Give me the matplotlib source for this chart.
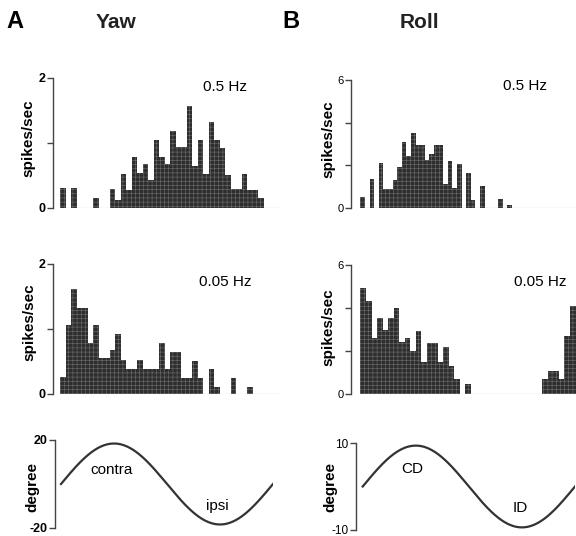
import numpy as np
import matplotlib
matplotlib.use("Agg")
import matplotlib.pyplot as plt

plt.rcParams['font.family'] = ['Liberation Sans', 'DejaVu Sans']
plt.rcParams['hatch.linewidth'] = 0.4

# firing rate histograms (spikes/sec), one cycle of stimulus
yaw_05 = [0.31, 0, 0.31, 0, 0, 0, 0.15, 0, 0, 0.29, 0.13, 0.53, 0.28, 0.78, 0.54, 0.67,
          0.43, 1.05, 0.79, 0.67, 1.19, 0.94, 0.94, 1.57, 0.64, 1.05, 0.53, 1.32, 1.05,
          0.92, 0.51, 0.29, 0.29, 0.53, 0.28, 0.28, 0.15, 0, 0, 0]
yaw_005 = [0.26, 1.06, 1.61, 1.33, 1.33, 0.79, 1.06, 0.55, 0.55, 0.67, 0.93, 0.53, 0.39,
           0.39, 0.53, 0.38, 0.38, 0.38, 0.78, 0.38, 0.65, 0.65, 0.25, 0.25, 0.51, 0.25,
           0, 0.38, 0.11, 0, 0, 0.25, 0, 0, 0.11, 0, 0, 0, 0, 0]
roll_05 = [0.53, 0, 1.34, 0, 2.12, 0.89, 0.89, 1.31, 1.93, 3.1, 2.43, 3.52, 2.94, 2.94,
           2.24, 2.55, 2.94, 2.94, 1.12, 2.21, 0.92, 2.06, 0, 1.64, 0.36, 0, 1.04, 0, 0,
           0, 0.44, 0, 0.12] + [0] * 15
roll_005 = [4.95, 4.33, 2.62, 3.52, 2.98, 3.52, 4.02, 2.40, 2.59, 2.02, 2.93, 1.50, 2.39,
            2.36, 1.47, 2.20, 1.30, 0.70, 0, 0.45] + [0] * 13 + \
           [0.68, 1.09, 1.09, 0.68, 2.70, 4.09, 4.1]

# stimulus position amplitude (degree)
yaw_amp = 18.4
roll_amp = 9.4

W, H = 576, 536
fig = plt.figure(figsize=(W / 100, H / 100), dpi=100, facecolor='w')

def px_axes(left, top, right, bottom):
    return fig.add_axes([left / W, 1 - bottom / H, (right - left) / W, (bottom - top) / H])

def ftext(x, y, s, **kw):
    fig.text(x / W, 1 - y / H, s, **kw)

def style(ax, ticks, labels, tsize, tweight):
    for s in ['top', 'right', 'bottom']:
        ax.spines[s].set_visible(False)
    ax.spines['left'].set_color('#444444')
    ax.spines['left'].set_linewidth(1.0)
    ax.set_xticks([])
    ax.set_yticks(ticks)
    ax.set_yticklabels(labels, fontsize=tsize, fontweight=tweight)
    ax.tick_params(axis='y', length=4.5, width=1.0, color='#444444', pad=1)
    ax.patch.set_alpha(0)

def hist(ax, vals, ymax, xlo, labels, tsize, tweight):
    n = len(vals)
    w = 360.0 / n
    centers = (np.arange(n) + 0.5) * w
    ax.bar(centers, vals, width=w, color='#2e2e2e', edgecolor='#6e6e6e',
           hatch='++++', linewidth=0)
    ax.hlines(0, 0, 360, color='#888888', linewidth=0.8)
    ax.set_xlim(xlo, 360)
    ax.set_ylim(0, ymax)
    style(ax, np.linspace(0, ymax, len(labels)), labels, tsize, tweight)

def sine(ax, amp, ymax, xlo, labels, tsize, tweight):
    phase = np.linspace(0, 360, 361)
    ax.plot(phase, amp * np.sin(np.radians(phase)), color='#333333', linewidth=1.6)
    ax.set_xlim(xlo, 360)
    ax.set_ylim(-ymax, ymax)
    style(ax, [-ymax, ymax], labels, tsize, tweight)

# column A: yaw
ax1 = px_axes(53, 78, 280, 208)
hist(ax1, yaw_05, 2, -11.5, ['0', '', '2'], 9, 'bold')
ax2 = px_axes(53, 264, 280, 394)
hist(ax2, yaw_005, 2, -11.5, ['0', '', '2'], 9, 'bold')
ax3 = px_axes(55, 440, 273, 528)
sine(ax3, yaw_amp, 20, -10.2, ['-20', '20'], 9, 'bold')

# column B: roll
ax4 = px_axes(351, 80, 581, 208)
hist(ax4, roll_05, 6, -15.5, ['0', '', '', '6'], 8, 'normal')
ax5 = px_axes(351, 265, 581, 394)
hist(ax5, roll_005, 6, -15.5, ['0', '', '', '6'], 8, 'normal')
ax6 = px_axes(356, 443, 575, 530)
sine(ax6, roll_amp, 10, -11.4, ['-10', '10'], 8.5, 'normal')

# axis titles placed where the reference has them
lab = dict(fontsize=11, fontweight='bold', rotation=90, ha='center', va='center')
ftext(28, 138, 'spikes/sec', **lab)
ftext(29, 322, 'spikes/sec', **lab)
ftext(32, 487, 'degree', **lab)
ftext(328, 139, 'spikes/sec', **lab)
ftext(328, 327, 'spikes/sec', **lab)
ftext(330, 487, 'degree', **lab)

ftext(15, 21, 'A', fontsize=17, fontweight='bold', ha='center', va='center')
ftext(116, 22, 'Yaw', fontsize=15, fontweight='bold', ha='center', va='center', color='#222222')
ftext(291, 21, 'B', fontsize=17, fontweight='bold', ha='center', va='center')
ftext(419, 22, 'Roll', fontsize=15, fontweight='bold', ha='center', va='center', color='#222222')

ftext(225, 87, '0.5 Hz', fontsize=11, ha='center', va='center')
ftext(525, 86, '0.5 Hz', fontsize=11, ha='center', va='center')
ftext(225, 282, '0.05 Hz', fontsize=11, ha='center', va='center')
ftext(540, 282, '0.05 Hz', fontsize=11, ha='center', va='center')

ftext(112, 470, 'contra', fontsize=11, ha='center', va='center')
ftext(217, 506, 'ipsi', fontsize=11, ha='center', va='center')
ftext(412, 469, 'CD', fontsize=11, ha='center', va='center')
ftext(520, 508, 'ID', fontsize=11, ha='center', va='center')

fig.savefig('out.png', dpi=100, facecolor='w')
